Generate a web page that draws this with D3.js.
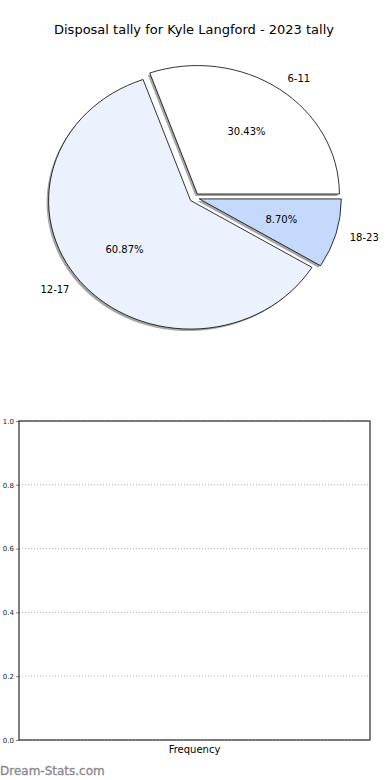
<!DOCTYPE html>
<html>
<head>
<meta charset="utf-8">
<script src="https://cdn.jsdelivr.net/npm/d3@7"></script>
<style>
  body { margin: 0; background: #fff; }
  text { font-family: "DejaVu Sans", sans-serif; }
</style>
</head>
<body>
<div id="chart"></div>
<script>
// data
const categories = ["6-11", "12-17", "18-23"];
const counts = [7, 14, 2];
const explode = [0.035, 0.035, 0.035];
const colors = ["#ffffff", "#ebf2fe", "#c5d9fd"];
const yTicks = [0, 0.2, 0.4, 0.6, 0.8, 1.0];

const W = 390, H = 780;
const svg = d3.select("#chart").append("svg")
  .attr("width", W).attr("height", H);

// title
svg.append("text")
  .attr("x", 194).attr("y", 34)
  .attr("text-anchor", "middle")
  .style("font-size", "13px")
  .text("Disposal tally for Kyle Langford - 2023 tally");

// pie (ellipse, starts at 3 o'clock, goes counterclockwise)
const cx = 194.5, cy = 197.7, rx = 142, ry = 128.5;
const total = d3.sum(counts);
const pie = d3.pie().sort(null)
  .startAngle(Math.PI / 2).endAngle(Math.PI / 2 - 2 * Math.PI);
const arcs = pie(counts);
const arc = d3.arc().innerRadius(0).outerRadius(1);

const slices = arcs.map((d, i) => {
  const mid = (d.startAngle + d.endAngle) / 2;
  const ux = Math.sin(mid), uy = -Math.cos(mid);
  return {
    d, i, ux, uy,
    x: cx + explode[i] * rx * ux,
    y: cy + explode[i] * ry * uy
  };
});

// shadows
svg.append("g").selectAll("path")
  .data(slices)
  .join("path")
    .attr("d", s => arc(s.d))
    .attr("transform", s => `translate(${s.x - 2},${s.y + 2}) scale(${rx},${ry})`)
    .attr("fill", "#808080")
    .attr("opacity", 0.7);

// wedges
svg.append("g").selectAll("path")
  .data(slices)
  .join("path")
    .attr("d", s => arc(s.d))
    .attr("transform", s => `translate(${s.x},${s.y}) scale(${rx},${ry})`)
    .attr("fill", s => colors[s.i])
    .attr("stroke", "#000")
    .attr("stroke-width", 0.8)
    .attr("vector-effect", "non-scaling-stroke");

// category labels
svg.append("g").selectAll("text")
  .data(slices)
  .join("text")
    .attr("x", s => s.x + 1.1 * rx * s.ux)
    .attr("y", s => s.y + 1.1 * ry * s.uy)
    .attr("text-anchor", s => s.ux > 0 ? "start" : "end")
    .attr("dominant-baseline", "central")
    .style("font-size", "10px")
    .text(s => categories[s.i]);

// percentage labels
svg.append("g").selectAll("text")
  .data(slices)
  .join("text")
    .attr("x", s => s.x + 0.6 * rx * s.ux)
    .attr("y", s => s.y + 0.6 * ry * s.uy)
    .attr("text-anchor", "middle")
    .attr("dominant-baseline", "central")
    .style("font-size", "10px")
    .text(s => (counts[s.i] / total * 100).toFixed(2) + "%");

// empty frequency axes
const axL = 19, axR = 370, axT = 421, axB = 740;
const y = d3.scaleLinear().domain([0, 1]).range([axB, axT]);

svg.append("g").selectAll("line")
  .data(yTicks)
  .join("line")
    .attr("x1", axL).attr("x2", axR)
    .attr("y1", d => y(d)).attr("y2", d => y(d))
    .attr("stroke", "#b0b0b0")
    .attr("stroke-width", 1)
    .attr("stroke-dasharray", "1,2");

const yAxis = svg.append("g")
  .attr("transform", `translate(${axL},0)`)
  .call(d3.axisLeft(y).tickValues(yTicks).tickFormat(d3.format(".1f")).tickSize(3).tickPadding(2));
yAxis.select(".domain").remove();
yAxis.selectAll("line").attr("stroke", "#888");
yAxis.selectAll("text")
  .style("font-size", "7px")
  .style("font-family", "DejaVu Sans, sans-serif")
  .attr("fill", "#222");

svg.append("rect")
  .attr("x", axL).attr("y", axT)
  .attr("width", axR - axL).attr("height", axB - axT)
  .attr("fill", "none")
  .attr("stroke", "#000")
  .attr("stroke-width", 1);

svg.append("text")
  .attr("x", (axL + axR) / 2).attr("y", 753)
  .attr("text-anchor", "middle")
  .style("font-size", "10px")
  .text("Frequency");

// watermark
svg.append("text")
  .attr("x", 0).attr("y", 775)
  .style("font-size", "12px")
  .attr("fill", "#888")
  .attr("stroke", "#888")
  .attr("stroke-width", 0.3)
  .text("Dream-Stats.com");
</script>
</body>
</html>
